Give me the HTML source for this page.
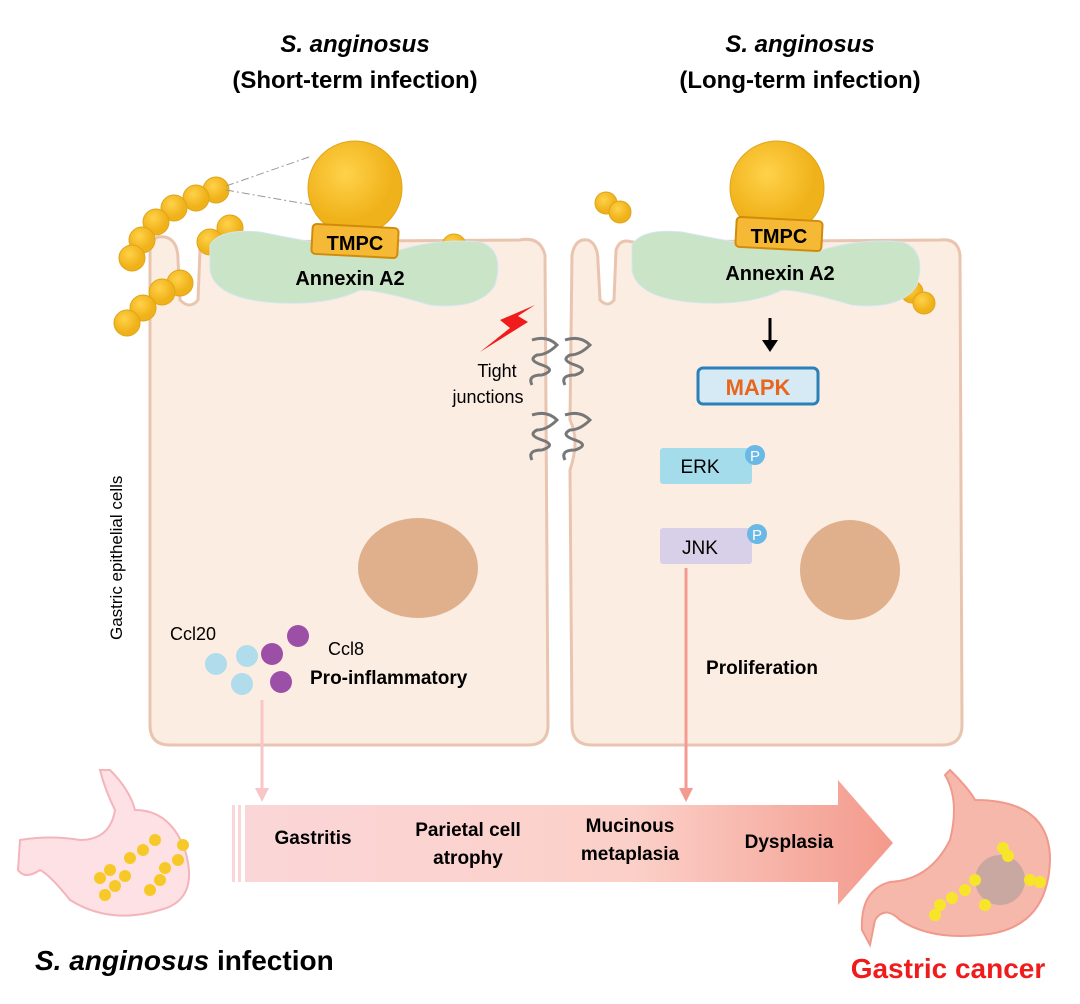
<!DOCTYPE html>
<html><head><meta charset="utf-8"><style>body{margin:0;background:#fff}svg{display:block}text{font-family:"Liberation Sans",sans-serif}</style></head><body>
<svg width="1080" height="1004" viewBox="0 0 1080 1004">
<defs>
<linearGradient id="band" x1="0" x2="1"><stop offset="0" stop-color="#fbd6d8"/><stop offset="0.6" stop-color="#fbd0c8"/><stop offset="1" stop-color="#f39a8c"/></linearGradient>
<radialGradient id="ball" cx="0.4" cy="0.35"><stop offset="0" stop-color="#ffd24a"/><stop offset="1" stop-color="#f0b21a"/></radialGradient>
</defs>
<text x="355" y="52" text-anchor="middle" font-size="24" font-weight="bold" font-style="italic">S. anginosus</text>
<text x="355" y="88" text-anchor="middle" font-size="24" font-weight="bold">(Short-term infection)</text>
<text x="800" y="52" text-anchor="middle" font-size="24" font-weight="bold" font-style="italic">S. anginosus</text>
<text x="800" y="88" text-anchor="middle" font-size="24" font-weight="bold">(Long-term infection)</text>
<!-- cells -->
<path d="M150 250 Q150 235 165 237 Q178 240 178 260 L180 300 Q190 310 198 300 L200 250 Q204 238 215 242 L520 240 Q540 236 545 255 L548 725 Q548 745 528 745 L170 745 Q150 745 150 725 Z" fill="#fcede3" stroke="#e9c5b0" stroke-width="3"/>
<path d="M572 255 Q575 238 588 240 Q598 244 598 262 L600 300 Q608 308 614 300 L616 250 Q620 238 632 242 L940 240 Q958 238 960 255 L962 725 Q962 745 942 745 L592 745 Q572 745 572 725 L570 470 Q580 440 570 420 Z" fill="#fcede3" stroke="#e9c5b0" stroke-width="3"/>
<ellipse cx="418" cy="568" rx="60" ry="50" fill="#dfb08b"/>
<ellipse cx="850" cy="570" rx="50" ry="50" fill="#dfb08b"/>
<!-- bacteria chain left -->
<g fill="url(#ball)" stroke="#e0a418">
<circle cx="216" cy="190" r="13"/><circle cx="196" cy="198" r="13"/><circle cx="174" cy="208" r="13"/><circle cx="156" cy="222" r="13"/><circle cx="142" cy="240" r="13"/><circle cx="132" cy="258" r="13"/>
<circle cx="230" cy="228" r="13"/><circle cx="210" cy="242" r="13"/>
<circle cx="180" cy="283" r="13"/><circle cx="162" cy="292" r="13"/><circle cx="143" cy="308" r="13"/><circle cx="127" cy="323" r="13"/>
<circle cx="454" cy="246" r="12"/>
<circle cx="606" cy="203" r="11"/><circle cx="620" cy="212" r="11"/>
<circle cx="912" cy="292" r="11"/><circle cx="924" cy="303" r="11"/>
</g>
<path d="M226 186 L312 156 M226 190 L312 205" stroke="#999" stroke-dasharray="8,3,2,3" fill="none"/>
<!-- annexin left -->
<path d="M210 245 Q220 228 260 232 Q300 240 330 245 L400 250 Q440 238 480 242 Q505 250 495 285 Q480 310 430 305 Q380 290 360 290 Q330 305 280 303 Q215 300 210 270 Z" fill="#c9e4c6" stroke="#d3e6f2"/>
<circle cx="355" cy="188" r="47" fill="url(#ball)" stroke="#e0a418"/>
<rect x="312" y="226" width="86" height="30" rx="4" fill="#f6b935" stroke="#d18b0a" stroke-width="2" transform="rotate(3 355 241)"/>
<text x="355" y="250" text-anchor="middle" font-size="20" font-weight="bold">TMPC</text>
<text x="350" y="285" text-anchor="middle" font-size="20" font-weight="bold">Annexin A2</text>
<!-- annexin right -->
<path d="M632 245 Q642 228 682 232 Q722 240 752 245 L822 250 Q862 238 902 242 Q927 250 917 285 Q902 310 852 305 Q802 290 782 290 Q752 305 702 303 Q637 300 632 270 Z" fill="#c9e4c6" stroke="#d3e6f2"/>
<circle cx="777" cy="188" r="47" fill="url(#ball)" stroke="#e0a418"/>
<rect x="736" y="219" width="86" height="30" rx="4" fill="#f6b935" stroke="#d18b0a" stroke-width="2" transform="rotate(3 779 234)"/>
<text x="779" y="243" text-anchor="middle" font-size="20" font-weight="bold">TMPC</text>
<text x="780" y="280" text-anchor="middle" font-size="20" font-weight="bold">Annexin A2</text>
<!-- lightning -->
<path d="M535 305 L500 320 L510 328 L480 352 L528 322 L518 316 Z" fill="#f01c1c"/>
<text x="497" y="377" text-anchor="middle" font-size="18">Tight</text>
<text x="488" y="403" text-anchor="middle" font-size="18">junctions</text>
<g stroke="#777" stroke-width="3" fill="none">
<path d="M532 340 q15 -5 25 5 q-10 10 -20 10 q-10 5 5 10 q15 5 0 10 q-15 0 -10 10"/>
<path d="M565 340 q15 -5 25 5 q-10 10 -20 10 q-10 5 5 10 q15 5 0 10 q-15 0 -10 10"/>
<path d="M532 415 q15 -5 25 5 q-10 10 -20 10 q-10 5 5 10 q15 5 0 10 q-15 0 -10 10"/>
<path d="M565 415 q15 -5 25 5 q-10 10 -20 10 q-10 5 5 10 q15 5 0 10 q-15 0 -10 10"/>
</g>
<text transform="translate(122 640) rotate(-90)" font-size="17">Gastric epithelial cells</text>
<!-- pathway -->
<path d="M770 318 L770 343" stroke="#000" stroke-width="3"/><path d="M762 340 L770 352 L778 340 Z"/>
<rect x="698" y="368" width="120" height="36" rx="5" fill="#d6eaf5" stroke="#2c80b8" stroke-width="3"/>
<text x="758" y="395" text-anchor="middle" font-size="22" font-weight="bold" fill="#e8661c">MAPK</text>
<rect x="660" y="448" width="92" height="36" rx="3" fill="#a5dcec"/>
<text x="700" y="473" text-anchor="middle" font-size="19">ERK</text>
<circle cx="755" cy="455" r="10" fill="#6ab8e6"/><text x="755" y="461" text-anchor="middle" font-size="15" fill="#fff">P</text>
<rect x="660" y="528" width="92" height="36" rx="3" fill="#d8d0e8"/>
<text x="700" y="554" text-anchor="middle" font-size="19">JNK</text>
<circle cx="757" cy="534" r="10" fill="#6ab8e6"/><text x="757" y="540" text-anchor="middle" font-size="15" fill="#fff">P</text>
<text x="762" y="674" text-anchor="middle" font-size="19" font-weight="bold">Proliferation</text>
<!-- chemokines -->
<circle cx="216" cy="664" r="11" fill="#b0dcec"/><circle cx="247" cy="656" r="11" fill="#b0dcec"/><circle cx="242" cy="684" r="11" fill="#b0dcec"/>
<circle cx="272" cy="654" r="11" fill="#9c4fa6"/><circle cx="298" cy="636" r="11" fill="#9c4fa6"/><circle cx="281" cy="682" r="11" fill="#9c4fa6"/>
<text x="170" y="640" font-size="18">Ccl20</text>
<text x="328" y="655" font-size="18">Ccl8</text>
<text x="310" y="684" font-size="19" font-weight="bold">Pro-inflammatory</text>
<!-- arrows down -->
<path d="M262 700 L262 795" stroke="#f8c6c6" stroke-width="3"/><path d="M255 788 L262 802 L269 788 Z" fill="#f8c6c6"/>
<path d="M686 568 L686 795" stroke="#f49a90" stroke-width="3"/><path d="M679 788 L686 802 L693 788 Z" fill="#f49a90"/>
<!-- band -->
<rect x="232" y="805" width="3" height="77" fill="#fbd6d8"/><rect x="238" y="805" width="3" height="77" fill="#fbd6d8"/>
<path d="M245 805 L838 805 L838 780 L893 843 L838 905 L838 882 L245 882 Z" fill="url(#band)"/>
<g font-size="19" font-weight="bold" text-anchor="middle">
<text x="313" y="844">Gastritis</text>
<text x="468" y="836">Parietal cell</text><text x="468" y="864">atrophy</text>
<text x="630" y="832">Mucinous</text><text x="630" y="860">metaplasia</text>
<text x="789" y="848">Dysplasia</text>
</g>
<!-- stomachs -->
<path d="M110 770 Q130 790 135 810 Q170 810 185 850 Q200 900 160 910 Q110 925 70 900 Q50 875 40 870 Q25 880 18 870 L20 840 Q50 835 80 840 Q110 840 115 810 Q105 790 100 770 Z" fill="#fde1e4" stroke="#f3b5bb" stroke-width="2"/>
<g fill="#f7c928">
<circle cx="105" cy="895" r="6"/><circle cx="115" cy="886" r="6"/><circle cx="125" cy="876" r="6"/><circle cx="130" cy="858" r="6"/><circle cx="143" cy="850" r="6"/><circle cx="155" cy="840" r="6"/><circle cx="110" cy="870" r="6"/><circle cx="160" cy="880" r="6"/><circle cx="165" cy="868" r="6"/><circle cx="178" cy="860" r="6"/><circle cx="183" cy="845" r="6"/><circle cx="150" cy="890" r="6"/><circle cx="100" cy="878" r="6"/>
</g>
<path d="M950 770 Q970 790 975 800 Q1050 800 1050 860 Q1048 930 980 935 Q930 940 900 920 Q885 905 875 920 L870 945 L862 930 Q860 890 890 882 Q930 880 950 840 Q960 800 945 775 Z" fill="#f7b8ac" stroke="#f09a8c" stroke-width="2"/>
<circle cx="1000" cy="880" r="25" fill="#c9a8a2"/>
<g fill="#f7e52a"><circle cx="940" cy="905" r="6"/><circle cx="952" cy="898" r="6"/><circle cx="965" cy="890" r="6"/><circle cx="975" cy="880" r="6"/><circle cx="985" cy="905" r="6"/><circle cx="1030" cy="880" r="6"/><circle cx="1040" cy="882" r="6"/><circle cx="1003" cy="848" r="6"/><circle cx="1008" cy="856" r="6"/><circle cx="935" cy="915" r="6"/></g>
<text x="35" y="970" font-size="28" font-weight="bold"><tspan font-style="italic">S. anginosus</tspan> infection</text>
<text x="948" y="978" text-anchor="middle" font-size="28" font-weight="bold" fill="#f01c1c">Gastric cancer</text>
</svg>
</body></html>
